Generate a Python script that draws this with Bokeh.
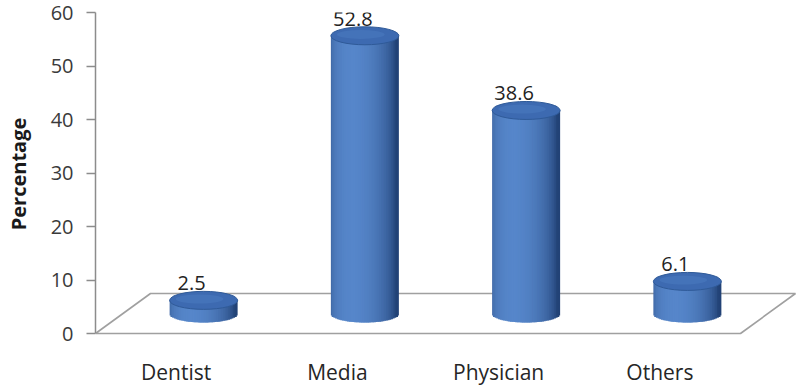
import numpy as np
from bokeh.plotting import figure
from bokeh.models import Range1d, FixedTicker, ColumnDataSource
from bokeh.core.properties import value
from bokeh.embed import file_html
from bokeh.resources import INLINE

# ---------------- data ----------------
categories = ["Dentist", "Media", "Physician", "Others"]
values = [2.5, 52.8, 38.6, 6.1]
value_labels = ["2.5", "52.8", "38.6", "6.1"]
y_ticks = [0, 10, 20, 30, 40, 50, 60]

# ---------------- layout / style constants (pixels) ----------------
W, H = 800, 390
BORDER_LEFT, BORDER_TOP, BORDER_BOTTOM = 95, 12, 55
FRAME_W = W - BORDER_LEFT
FRAME_H = H - BORDER_TOP - BORDER_BOTTOM
PX_PER_CAT = 161.25            # width of one category on the front plane
FRONT_PX_PER_UNIT = 321 / 60   # y scale of the value axis (front plane)
DEPTH_X, DEPTH_Y = 55, 40      # oblique depth of the floor
BAR_PX_PER_UNIT = 5.26         # y scale at mid depth (where the cylinders stand)
CYL_R_PX, CYL_B_PX = 34, 9     # cylinder radius / half-height of its ellipses
N_STRIPS = 40
LABEL_GAP_PX = 17
LABEL_SHIFT_PX = -12

n = len(categories)
positions = [i + 1 for i in range(n)]

# main (front plane) ranges
x_start = 0.5
x_end = x_start + FRAME_W / PX_PER_CAT
y_end = y_ticks[-1]
y_start = y_end - FRAME_H / FRONT_PX_PER_UNIT

# mid-depth ranges for the cylinders
dx = (DEPTH_X / 2) / PX_PER_CAT
zero_px_from_bottom = -y_start * FRONT_PX_PER_UNIT
bar_zero_from_bottom = zero_px_from_bottom + DEPTH_Y / 2
bar_y_start = -bar_zero_from_bottom / BAR_PX_PER_UNIT
bar_y_end = (FRAME_H - bar_zero_from_bottom) / BAR_PX_PER_UNIT

p = figure(width=W, height=H,
           x_range=Range1d(x_start, x_end), y_range=Range1d(y_start, y_end),
           output_backend="svg", toolbar_location=None,
           min_border_left=BORDER_LEFT, min_border_right=0,
           min_border_top=BORDER_TOP, min_border_bottom=BORDER_BOTTOM)
p.extra_x_ranges = {"bar": Range1d(x_start - dx, x_end - dx)}
p.extra_y_ranges = {"bar": Range1d(bar_y_start, bar_y_end)}
p.outline_line_color = None
p.xgrid.visible = False
p.ygrid.visible = False
p.background_fill_color = "white"
p.border_fill_color = "white"

# ---- y axis ----
ax = p.yaxis[0]
ax.ticker = FixedTicker(ticks=y_ticks)
ax.bounds = (y_ticks[0], y_ticks[-1])
ax.axis_line_color = "#8c8c8c"
ax.axis_line_width = 1.5
ax.major_tick_line_color = "#8c8c8c"
ax.major_tick_line_width = 1.5
ax.major_tick_out = 9
ax.major_tick_in = 0
ax.minor_tick_line_color = None
ax.major_label_standoff = 13
ax.major_label_text_font = "Open Sans"
ax.major_label_text_font_size = "20px"
ax.major_label_text_color = "#3a3a3a"
ax.axis_label = "Percentage"
ax.axis_label_text_font = "Open Sans"
ax.axis_label_text_font_style = "bold"
ax.axis_label_text_font_size = "20px"
ax.axis_label_text_color = "#1a1a1a"
ax.axis_label_standoff = 16

# ---- x axis (category names) ----
xa = p.xaxis[0]
xa.ticker = FixedTicker(ticks=positions)
xa.major_label_overrides = {pos: cat for pos, cat in zip(positions, categories)}
xa.axis_line_color = None
xa.major_tick_line_color = None
xa.minor_tick_line_color = None
xa.major_label_standoff = 16
xa.major_label_text_font = "Open Sans"
xa.major_label_text_font_size = "21px"
xa.major_label_text_color = "#262626"

# ---- floor (parallelogram) ----
ddx = DEPTH_X / PX_PER_CAT
ddy = DEPTH_Y / FRONT_PX_PER_UNIT
fx0, fx1 = positions[0] - 0.5, positions[-1] + 0.5
p.patch([fx0, fx1, fx1 + ddx, fx0 + ddx], [0, 0, ddy, ddy],
        fill_color="white", line_color="#a0a0a0", line_width=1.6)

# ---- cylinders ----
r = CYL_R_PX / PX_PER_CAT
b = CYL_B_PX / BAR_PX_PER_UNIT
dark = np.array([34, 66, 118])
light = np.array([86, 134, 202])
step = 2.0 / N_STRIPS
u_mid = np.linspace(-1 + step / 2, 1 - step / 2, N_STRIPS)
ql, qr, qt, qb, qc = [], [], [], [], []
for cx, v in zip(positions, values):
    for u in u_mid:
        diffuse = -0.35 * u + 0.94 * np.sqrt(max(0.0, 1 - u * u))
        f = float(np.clip(diffuse, 0, 1)) ** 0.9
        c = (dark + (light - dark) * f).astype(int)
        ql.append(cx + max(-1.0, u - step) * r)
        qr.append(cx + min(1.0, u + step) * r)
        qt.append(v)
        qb.append(-b * np.sqrt(max(0.0, 1 - u * u)))
        qc.append("#%02x%02x%02x" % tuple(c))
strips = ColumnDataSource(dict(left=ql, right=qr, top=qt, bottom=qb, color=qc))
p.quad(left="left", right="right", top="top", bottom="bottom", source=strips,
       fill_color="color", line_color=None,
       x_range_name="bar", y_range_name="bar")

p.ellipse(x=positions, y=values, width=2 * r, height=2 * b,
          fill_color="#3d6ab1", line_color="#2f5a98", line_width=1,
          x_range_name="bar", y_range_name="bar")
p.ellipse(x=[c - 0.12 * r for c in positions], y=[v + 0.15 * b for v in values],
          width=1.4 * r, height=1.0 * b,
          fill_color="#4b7abf", fill_alpha=0.55, line_color=None,
          x_range_name="bar", y_range_name="bar")

# ---- value labels ----
p.text(x=[c + LABEL_SHIFT_PX / PX_PER_CAT for c in positions],
       y=[v + LABEL_GAP_PX / BAR_PX_PER_UNIT for v in values],
       text=value_labels, text_align="center", text_baseline="alphabetic",
       text_font=value("Open Sans"), text_font_size="20px", text_color="#222222",
       x_range_name="bar", y_range_name="bar")

open("out.html", "w").write(file_html(p, INLINE))
